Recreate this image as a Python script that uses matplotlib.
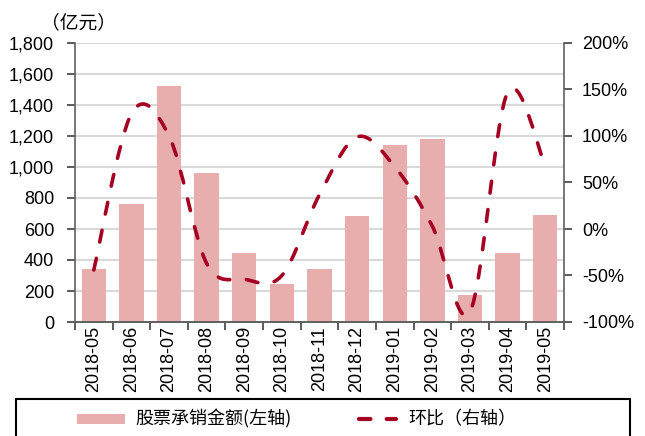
import matplotlib
matplotlib.use("Agg")
import matplotlib.pyplot as plt
from matplotlib.path import Path
from matplotlib.patches import PathPatch, Rectangle
from matplotlib.lines import Line2D
from matplotlib.ticker import FuncFormatter, MultipleLocator

months = ["2018-05", "2018-06", "2018-07", "2018-08", "2018-09", "2018-10", "2018-11",
          "2018-12", "2019-01", "2019-02", "2019-03", "2019-04", "2019-05"]
amount = [340, 760, 1525, 960, 445, 245, 345, 686, 1142, 1178, 174, 443, 690]
mom_pct = [-44, 124, 100, -37, -54, -50, 37, 99, 67, 3, -89, 147, 68]
legend_labels = ["股票承销金额(左轴)", "环比（右轴）"]
unit_label = "（亿元）"

bar_color = "#E8AEAE"
line_color = "#A50021"
cjk = ["Noto Sans CJK SC", "DejaVu Sans"]
num_font = "Liberation Sans"

fig = plt.figure(figsize=(6.45, 4.36), dpi=100)
ax = fig.add_axes([75/645, 1-322/436, (564-75)/645, (322-43)/436])
ax2 = ax.twinx()

x = list(range(len(months)))
ax.bar(x, amount, width=0.65, color=bar_color, zorder=2)
ax.set_xlim(-0.5, len(months)-0.5)
ax.set_ylim(0, 1800)
ax.yaxis.set_major_locator(MultipleLocator(200))
ax.yaxis.set_major_formatter(FuncFormatter(lambda v, p: f"{int(v):,}"))
ax.grid(axis="y", color="#d9d9d9", linewidth=1.5, zorder=0)
ax.set_axisbelow(True)

ax.set_xticks([i - 0.5 for i in range(len(months)+1)])
ax.set_xticklabels([])
ax.set_xticks(x, minor=True)
ax.set_xticklabels(months, minor=True, rotation=90, fontname=num_font, fontsize=13)
ax.tick_params(axis="x", which="major", length=6, width=1.2, color="#404040", direction="out")
ax.tick_params(axis="x", which="minor", length=0, pad=3)
ax.tick_params(axis="y", length=6, width=1.2, color="#404040", pad=9, labelsize=13)
for lab in ax.get_yticklabels():
    lab.set_fontname(num_font)

ax2.set_ylim(-100, 200)
ax2.yaxis.set_major_locator(MultipleLocator(50))
ax2.yaxis.set_major_formatter(FuncFormatter(lambda v, p: f"{int(v)}%"))
ax2.tick_params(axis="y", length=6, width=1.2, color="#404040", pad=7, labelsize=13)
for lab in ax2.get_yticklabels():
    lab.set_fontname(num_font)

for a in (ax, ax2):
    a.spines["top"].set_visible(False)
    for s in ("left", "right", "bottom"):
        a.spines[s].set_color("#606060")
        a.spines[s].set_linewidth(1.2)
ax2.spines["left"].set_visible(False)
ax.spines["right"].set_visible(False)

# smoothed line (Catmull-Rom style Bezier, like Excel smoothing)
pts = list(zip(x, mom_pct))
n = len(pts)
verts = [pts[0]]
codes = [Path.MOVETO]
for i in range(n - 1):
    p0 = pts[i - 1] if i > 0 else pts[i]
    p1 = pts[i]
    p2 = pts[i + 1]
    p3 = pts[i + 2] if i + 2 < n else pts[i + 1]
    c1 = (p1[0] + (p2[0] - p0[0]) / 6, p1[1] + (p2[1] - p0[1]) / 6)
    c2 = (p2[0] - (p3[0] - p1[0]) / 6, p2[1] - (p3[1] - p1[1]) / 6)
    verts += [c1, c2, p2]
    codes += [Path.CURVE4] * 3
patch = PathPatch(Path(verts, codes), facecolor="none", edgecolor=line_color,
                  linewidth=2.6, capstyle="round", zorder=3)
patch.set_linestyle((0, (3.3, 4.6)))
ax2.add_patch(patch)

fig.text(41/645, 1-23/436, unit_label, fontsize=13.5, family=cjk, va="center", ha="left")

# legend box (manual)
fig.patches.append(Rectangle((16/645, -0.05), (630-16)/645, 0.05 + (436-399)/436,
                             transform=fig.transFigure, fill=False, edgecolor="#000000",
                             linewidth=1.5))
fig.patches.append(Rectangle((77/645, 1-424/436), (125-77)/645, 10/436,
                             transform=fig.transFigure, facecolor=bar_color, edgecolor="none"))
fig.text(135/645, 1-419/436, legend_labels[0], fontsize=13, family=cjk, va="center", ha="left")
fig.lines.append(Line2D([359/645, 396/645], [1-419/436, 1-419/436], transform=fig.transFigure,
                        color=line_color, linewidth=3.0, linestyle=(0, (2.75, 3.9)),
                        dash_capstyle="round"))
fig.text(408/645, 1-419/436, legend_labels[1], fontsize=13, family=cjk, va="center", ha="left")

fig.savefig("out.png", dpi=100)
